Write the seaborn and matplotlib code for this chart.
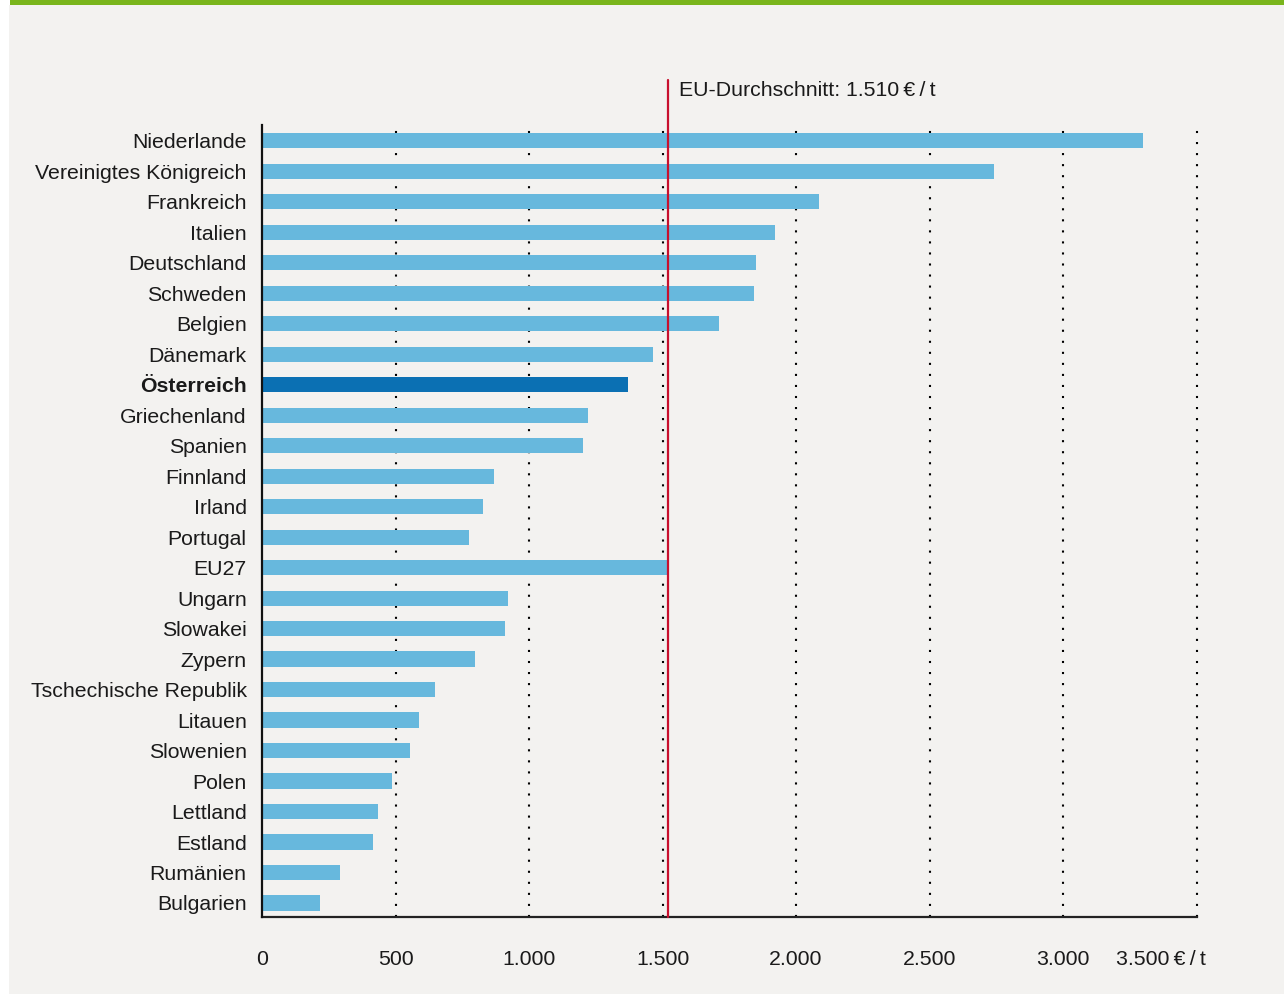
import matplotlib
matplotlib.use("Agg")
import matplotlib.pyplot as plt
import matplotlib.transforms as mtransforms
from matplotlib.patches import Rectangle
import seaborn as sns
import pandas as pd

countries = ["Niederlande", "Vereinigtes Königreich", "Frankreich", "Italien", "Deutschland",
             "Schweden", "Belgien", "Dänemark", "Österreich", "Griechenland", "Spanien",
             "Finnland", "Irland", "Portugal", "EU27", "Ungarn", "Slowakei", "Zypern",
             "Tschechische Republik", "Litauen", "Slowenien", "Polen", "Lettland", "Estland",
             "Rumänien", "Bulgarien"]
values = [3300, 2740, 2088, 1923, 1852, 1844, 1713, 1466, 1372, 1222, 1203,
          870, 828, 776, 1520, 922, 911, 798, 648, 588, 555, 487, 435, 416, 292, 217]
highlight = "Österreich"
eu_line = 1520
eu_label = "EU-Durchschnitt: 1.510\u2009€\u2009/\u2009t"
xticks = [0, 500, 1000, 1500, 2000, 2500, 3000, 3500]
xticklabels = ["0", "500", "1.000", "1.500", "2.000", "2.500", "3.000", "3.500\u2009€\u2009/\u2009t"]

df = pd.DataFrame({"country": countries, "value": values})

sns.set_style("white")
plt.rcParams["font.family"] = ["Liberation Sans", "DejaVu Sans"]
FS = 15.3

W, H = 1284, 997
fig = plt.figure(figsize=(W / 100, H / 100), dpi=100)
fig.patch.set_facecolor("white")
# background panel and green top band
fig.patches.append(Rectangle((9 / W, 3 / H), 1 - 9 / W, (992 - 3) / H, transform=fig.transFigure,
                             facecolor="#f3f2f0", edgecolor="none", zorder=-10))
fig.patches.append(Rectangle((10 / W, 1 - 5 / H), 1 - 10 / W, 5 / H, transform=fig.transFigure,
                             facecolor="#79b51c", edgecolor="none", zorder=-9))

ax = fig.add_axes([262 / W, 1 - 917 / H, (1196.5 - 262) / W, (917 - 125) / H])
ax.set_facecolor("none")

palette = {c: ("#0b70b3" if c == highlight else "#67b8dd") for c in countries}
sns.barplot(data=df, x="value", y="country", hue="country", palette=palette,
            width=0.5, ax=ax, legend=False, saturation=1, zorder=3, linewidth=0)

ax.set_xlim(0, 3500)
ax.set_ylim(25.46, -0.52)
ax.set_xlabel("")
ax.set_ylabel("")

# dotted gridlines
for xv in xticks[1:]:
    ax.axvline(xv, color="black", lw=1.5, linestyle=(0, (1.0, 4.3)),
               dash_capstyle="butt", zorder=1, clip_on=False)

ax.set_xticks(xticks)
ax.set_xticklabels(xticklabels)
ax.tick_params(axis="x", length=0, pad=24, labelsize=FS, colors="#1a1a1a")
ax.tick_params(axis="y", length=0, pad=11, labelsize=FS, colors="#1a1a1a")
last = ax.get_xticklabels()[-1]
last.set_horizontalalignment("right")
last.set_transform(last.get_transform() + mtransforms.ScaledTranslation(9 / 100, 0, fig.dpi_scale_trans))

for lab in ax.get_yticklabels():
    if lab.get_text() == highlight:
        lab.set_fontweight("bold")

for s in ["top", "right"]:
    ax.spines[s].set_visible(False)
ax.spines["left"].set_color("#111111")
ax.spines["left"].set_linewidth(1.6)
ax.spines["bottom"].set_color("#222222")
ax.spines["bottom"].set_linewidth(1.6)
ax.spines["left"].set_zorder(5)

# EU average line
ax.axvline(eu_line, ymin=0, ymax=(917 - 80) / (917 - 125), color="#c8102e", lw=1.6,
           clip_on=False, zorder=6)
trans = mtransforms.blended_transform_factory(ax.transData, ax.transAxes)
ax.text(eu_line + 42, (917 - 91) / (917 - 125), eu_label, fontsize=FS, color="#1a1a1a",
        va="center", ha="left", transform=trans)

fig.savefig("out.png", dpi=100, facecolor="white")
